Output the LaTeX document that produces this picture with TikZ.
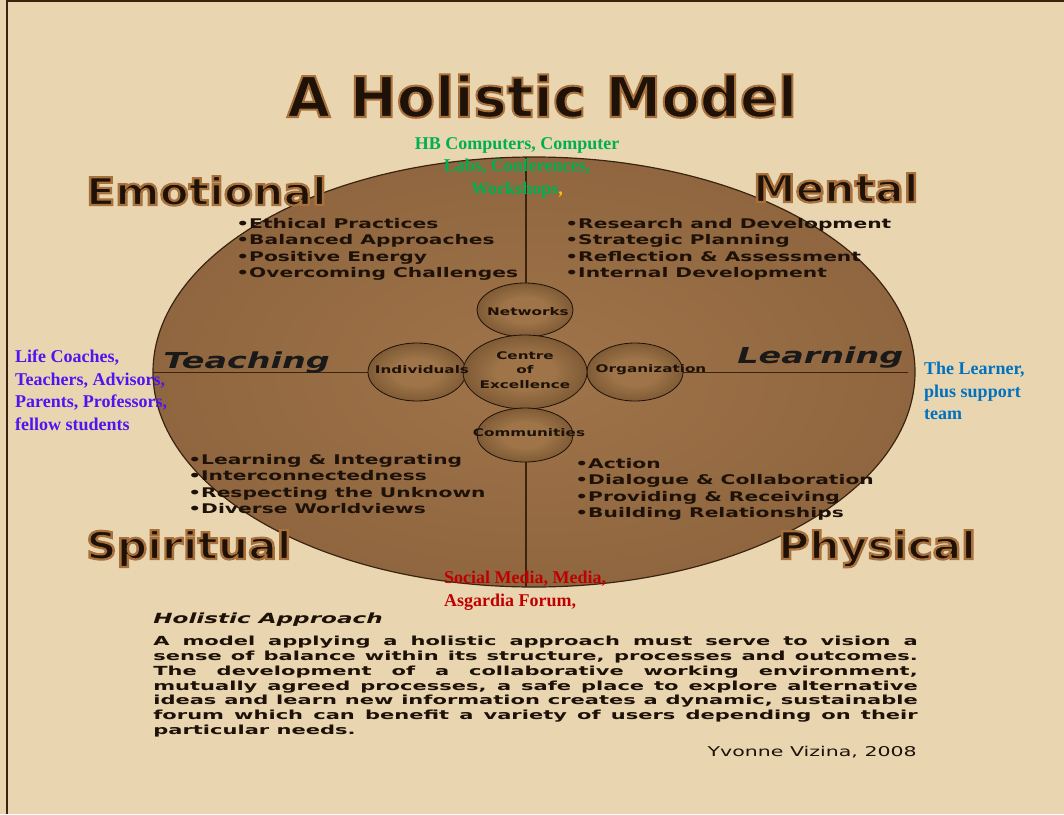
\documentclass[tikz,border=0pt]{standalone}
\usepackage{fontspec}
\setmainfont{Liberation Serif}
\newfontfamily\verdfont{DejaVu Sans}
\usetikzlibrary{shapes.geometric}

\definecolor{paper}{RGB}{233,214,177}
\definecolor{discin}{RGB}{160,116,74}
\definecolor{discout}{RGB}{126,88,52}
\definecolor{ballin}{RGB}{158,116,72}
\definecolor{ballout}{RGB}{66,42,18}
\definecolor{inkbrown}{RGB}{30,18,8}
\definecolor{rulebrown}{RGB}{58,36,16}
\definecolor{labgreen}{RGB}{0,176,80}
\definecolor{labviolet}{RGB}{80,20,240}
\definecolor{labblue}{RGB}{0,112,192}
\definecolor{labred}{RGB}{192,0,0}
\definecolor{labamber}{RGB}{255,192,0}

\pgfdeclareradialshading{discshade}{\pgfpoint{0bp}{0bp}}{color(0bp)=(discin); color(50bp)=(discout)}
\pgfdeclareradialshading{ballshade}{\pgfpoint{0bp}{0bp}}{color(0bp)=(ballin); color(12bp)=(ballin); color(50bp)=(ballout)}

% bevelled lettering: dark face with a brown stroked rim
\newcommand\bevelled[2][1.6]{%
  \special{pdf:literal direct 2 Tr 0.66 0.44 0.23 RG #1 w}#2\special{pdf:literal direct 0 Tr}}

\begin{document}
\begin{tikzpicture}[
    x=1pt, y=-1pt,
    disc/.style={ellipse, draw=rulebrown, line width=1.2pt, shading=discshade, inner sep=0, minimum width=762, minimum height=430},
    ball/.style={ellipse, draw=inkbrown, line width=0.8pt, shading=ballshade, inner sep=0},
    axisline/.style={draw=rulebrown, line width=1.4pt},
    balltext/.style={font=\verdfont\bfseries\fontsize{10.5}{14.8}\selectfont, text=inkbrown, xscale=1.45, inner sep=0, align=center},
    titleword/.style={font=\verdfont\bfseries\fontsize{56}{60}\selectfont, text=inkbrown, anchor=base, inner sep=0},
    quadword/.style={font=\verdfont\bfseries\fontsize{38}{40}\selectfont, text=inkbrown, xscale=1.12, anchor=base west, inner sep=0},
    bulletlist/.style={font=\verdfont\bfseries\fontsize{13.3}{16.5}\selectfont, text=inkbrown, xscale=1.52, anchor=north west, align=left, inner sep=0},
    axisword/.style={font=\verdfont\bfseries\itshape\fontsize{22}{24}\selectfont, text=black!90, xscale=1.52, anchor=base west, inner sep=0},
    partnertext/.style={font=\bfseries\fontsize{18}{22.5}\selectfont, inner sep=0, align=left, anchor=north west},
    approachhead/.style={font=\verdfont\bfseries\itshape\fontsize{14}{16}\selectfont, text=inkbrown, xscale=1.65, anchor=base west, inner sep=0},
    approachbody/.style={font=\verdfont\bfseries\fontsize{12.5}{14.8}\selectfont, text=inkbrown, xscale=1.68, anchor=north west, inner sep=0, text width=455, align=justify},
    signature/.style={font=\verdfont\fontsize{13.5}{15}\selectfont, text=inkbrown, xscale=1.52, anchor=base east, inner sep=0}
]

% ==================== PAGE ====================
\fill[paper] (0,0) rectangle (1064,814);
\useasboundingbox (0,0) rectangle (1064,814);
\draw[rulebrown, line width=1.5pt] (7,814) -- (7,0.75) -- (1064,0.75);

% ==================== TITLE ====================
\node[titleword] (title) at (542,117) {\bevelled[2]{A Holistic Model}};

% ==================== MAIN DISC & AXES ====================
\node[disc] (disc) at (534,372) {};
\coordinate (vtop) at (526,157);
\coordinate (vbot) at (526,587);
\coordinate (hleft) at (153,372.5);
\coordinate (hright) at (908,372.5);
\draw[axisline] (vtop) -- (vbot);
\draw[axisline] (hleft) -- (hright);

% ==================== CENTRE CLUSTER ====================
\node[ball, minimum width=96, minimum height=54] (net) at (525,310) {};
\node[ball, minimum width=98, minimum height=58] (ind) at (417,372) {};
\node[ball, minimum width=96, minimum height=58] (org) at (635,372) {};
\node[ball, minimum width=124, minimum height=74] (coe) at (525,372) {};
\node[ball, minimum width=96, minimum height=54] (com) at (525,435) {};

\node[balltext] (net_t) at (528,312) {Networks};
\node[balltext] (coe_t) at (525,370) {Centre\\of\\Excellence};
\node[balltext] (ind_t) at (422,370) {Individuals};
\node[balltext] (org_t) at (651,370) {Organization};
\node[balltext] (com_t) at (529,433) {Communities};

% ==================== QUADRANT WORDS ====================
\node[quadword] (emo) at (86,205) {\bevelled[2.2]{Emotional}};
\node[quadword] (men) at (753,202) {\bevelled[2.2]{Mental}};
\node[quadword] (spi) at (86,559) {\bevelled[2.2]{Spiritual}};
\node[quadword] (phy) at (778,559) {\bevelled[2.2]{Physical}};

% ==================== QUADRANT LISTS ====================
\node[bulletlist] (emo_list) at (236,218) {\textbullet Ethical Practices\\\textbullet Balanced Approaches\\\textbullet Positive Energy\\\textbullet Overcoming Challenges};
\node[bulletlist] (men_list) at (565,218) {\textbullet Research and Development\\\textbullet Strategic Planning\\\textbullet Reflection \& Assessment\\\textbullet Internal Development};
\node[bulletlist] (spi_list) at (188,454) {\textbullet Learning \& Integrating\\\textbullet Interconnectedness\\\textbullet Respecting the Unknown\\\textbullet Diverse Worldviews};
\node[bulletlist] (phy_list) at (575,458) {\textbullet Action\\\textbullet Dialogue \& Collaboration\\\textbullet Providing \& Receiving\\\textbullet Building Relationships};

% ==================== AXIS WORDS ====================
\node[axisword] (teach) at (163,368) {Teaching};
\node[axisword] (learn) at (737,363) {Learning};

% ==================== PARTNER NOTES ====================
\node[partnertext, text=labgreen, align=center, anchor=north] (tools) at (517,137) {HB Computers, Computer\\Labs, Conferences,\\Workshops\textcolor{labamber}{,}};
\node[partnertext, text=labviolet] (mentors) at (15,350) {Life Coaches,\\Teachers, Advisors,\\Parents, Professors,\\fellow students};
\node[partnertext, text=labblue] (learner) at (924,362) {The Learner,\\plus support\\team};
\node[partnertext, text=labred] (media) at (444,571) {Social Media, Media,\\Asgardia Forum,};

% ==================== HOLISTIC APPROACH ====================
\node[approachhead] (appr_h) at (153,623) {Holistic Approach};
\node[approachbody] (appr_b) at (153,636) {\tolerance=10000\hbadness=10000\hyphenpenalty=10000
A model applying a holistic approach must serve to vision a\linebreak
sense of balance within its structure, processes and outcomes.\linebreak
The development of a collaborative working environment,\linebreak
mutually agreed processes, a safe place to explore alternative\linebreak
ideas and learn new information creates a dynamic, sustainable\linebreak
forum which can benefit a variety of users depending on their\linebreak
particular needs.};
\node[signature] (sig) at (917,756) {Yvonne Vizina, 2008};

\end{tikzpicture}
\end{document}
